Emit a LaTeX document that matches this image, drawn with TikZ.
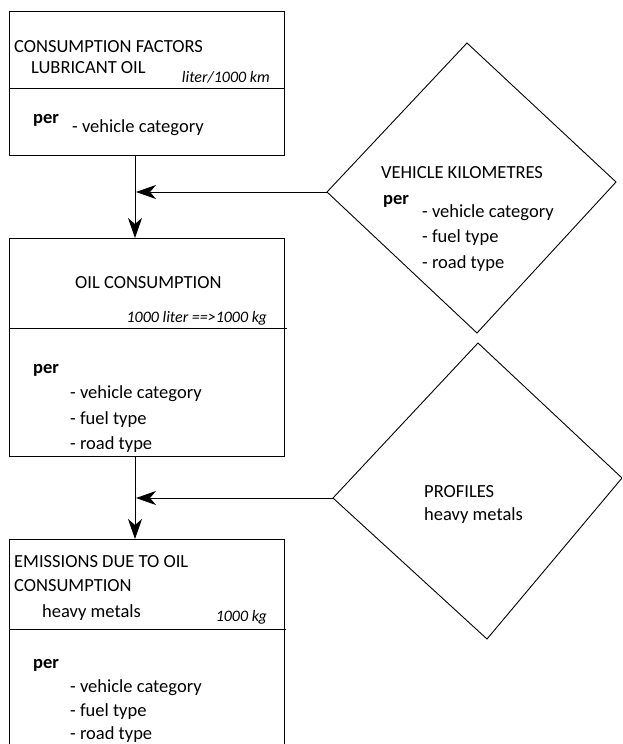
\documentclass[tikz,border=0pt]{standalone}
\usepackage{fontspec}
\setmainfont{Carlito}
\usetikzlibrary{arrows.meta}
\newcommand{\mainsz}{\fontsize{18.5pt}{22pt}\selectfont}
\newcommand{\unitsz}{\fontsize{16pt}{19pt}\selectfont\itshape}
\tikzset{
  box/.style={draw, line width=1pt, anchor=north west, inner sep=0pt, minimum width=275pt},
  divider/.style={line width=1pt},
  dia/.style={draw, line width=0.9pt, line join=miter},
  txt/.style={anchor=base west, inner sep=0pt, font=\mainsz},
  pertxt/.style={anchor=base west, inner sep=0pt, font=\mainsz\bfseries},
  unit/.style={anchor=base east, inner sep=0pt, font=\unitsz},
  arr/.style={line width=1pt, -{Stealth[length=20pt,width=14pt,inset=6pt]}}
}
\begin{document}
\begin{tikzpicture}[x=1pt,y=-1pt]
\path[use as bounding box] (0,0) rectangle (622,744);
\clip (0,0) rectangle (622,744);
% boxes
\node[box, minimum height=144pt] (b1) at (9,11) {};
\node[box, minimum height=218pt] (b2) at (9,238) {};
\node[box, minimum height=240pt] (b3) at (9,539) {};
\draw[divider] (9,88) -- (284,88);
\draw[divider] (9,328) -- (287,328);
\draw[divider] (9,629) -- (286,629);
% diamonds
\coordinate (d1t) at (467,43);
\coordinate (d1r) at (616,182);
\coordinate (d1b) at (477,333);
\coordinate (d1l) at (327,192);
\draw[dia] (d1t) -- (d1r) -- (d1b) -- (d1l) -- cycle;
\coordinate (d2t) at (478,343);
\coordinate (d2r) at (622,478);
\coordinate (d2b) at (487,639);
\coordinate (d2l) at (333,498);
\draw[dia] (d2t) -- (d2r) -- (d2b) -- (d2l) -- cycle;
% junctions
\coordinate (j1) at (136,192);
\coordinate (j2) at (136,498);
% connectors
\draw[arr] (135,0 |- b1.south) -- (135,0 |- b2.north);
\draw[arr] (135,0 |- b2.south) -- (135,0 |- b3.north);
\draw[arr] (d1l) -- (j1);
\draw[arr] (d2l) -- (j2);
% box 1 texts
\node[txt] (t1a) at (14,52) {CONSUMPTION FACTORS};
\node[txt] (t1b) at (31,73) {LUBRICANT OIL};
\node[unit] (t1u) at (270,82) {liter/1000 km};
\node[pertxt] (t1p) at (33,123) {per};
\node[txt] (t1c) at (72,132) {- vehicle category};
% box 2 texts
\node[txt] (t2a) at (75,288) {OIL CONSUMPTION};
\node[unit] (t2u) at (267,322) {1000 liter ==>1000 kg};
\node[pertxt] (t2p) at (33,373) {per};
\node[txt] (t2c1) at (70,398) {- vehicle category};
\node[txt] (t2c2) at (70,424) {- fuel type};
\node[txt] (t2c3) at (70,449) {- road type};
% box 3 texts
\node[txt] (t3a) at (14,567) {EMISSIONS DUE TO OIL};
\node[txt] (t3b) at (14,591) {CONSUMPTION};
\node[txt] (t3c) at (42,617) {heavy metals};
\node[unit] (t3u) at (267,621) {1000 kg};
\node[pertxt] (t3p) at (33,668) {per};
\node[txt] (t3c1) at (70,692) {- vehicle category};
\node[txt] (t3c2) at (70,716) {- fuel type};
\node[txt] (t3c3) at (70,739) {- road type};
% diamond 1 texts
\node[txt] (d1a) at (381,178) {VEHICLE KILOMETRES};
\node[pertxt] (d1p) at (383,204) {per};
\node[txt] (d1c1) at (422,217) {- vehicle category};
\node[txt] (d1c2) at (422,242) {- fuel type};
\node[txt] (d1c3) at (422,268) {- road type};
% diamond 2 texts
\node[txt] (d2a) at (424,497) {PROFILES};
\node[txt] (d2b2) at (424,520) {heavy metals};
\end{tikzpicture}
\end{document}
